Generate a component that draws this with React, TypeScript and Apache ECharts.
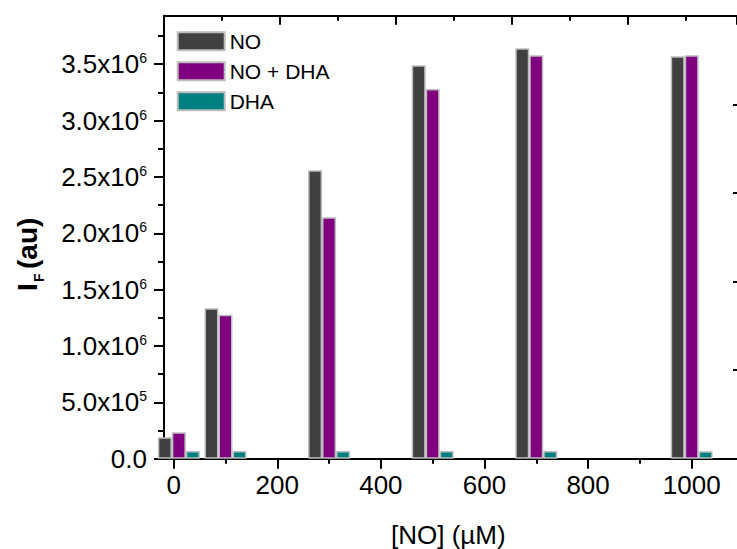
import React, { useEffect, useRef } from "react";
import * as echarts from "echarts";

const FONT = "'Liberation Sans', Arial, sans-serif";

const concentrations = [10, 100, 300, 500, 700, 1000];
const noValues = [0.19e6, 1.335e6, 2.559e6, 3.491e6, 3.641e6, 3.571e6];
const noDhaValues = [0.234e6, 1.278e6, 2.142e6, 3.28e6, 3.579e6, 3.579e6];
const dhaValues = [0.068e6, 0.068e6, 0.068e6, 0.068e6, 0.068e6, 0.066e6];
const seriesNames = ["NO", "NO + DHA", "DHA"];
const seriesColors = ["#404040", "#800080", "#008080"];
const xTicks = [0, 200, 400, 600, 800, 1000];
const xMinorTicks = [100, 300, 500, 700, 900];
const yTicks = [0, 5e5, 1e6, 1.5e6, 2e6, 2.5e6, 3e6, 3.5e6];
const yMinorTicks = [2.5e5, 7.5e5, 1.25e6, 1.75e6, 2.25e6, 2.75e6, 3.25e6, 3.75e6];

const X_MIN = -18.7;
const X_MAX = 1087.5;
const Y_MAX = 3.93e6;

function yLabel(v: number): string {
  if (v === 0) return "{m|0.0}";
  const e = Math.floor(Math.log10(v) + 1e-9);
  const m = v / Math.pow(10, e);
  return `{m|${m.toFixed(1)}x10}{e|${e}}`;
}

export default function App() {
  const ref = useRef<HTMLDivElement>(null);
  useEffect(() => {
    if (!ref.current) return;
    const chart = echarts.init(ref.current, null, { renderer: "svg" });
    const allValues = [noValues, noDhaValues, dhaValues];
    const axisLineStyle = { color: "#000", width: 2 };
    chart.setOption({
      animation: false,
      backgroundColor: "#fff",
      grid: { left: 164, right: 0, top: 15.7, bottom: 90.3, containLabel: false },
      legend: {
        left: 176.7,
        top: 30.7,
        orient: "vertical",
        padding: 0,
        itemWidth: 47,
        itemHeight: 18,
        itemGap: 9,
        icon: "rect",
        selectedMode: false,
        data: seriesNames,
        textStyle: { fontSize: 21, fontFamily: FONT, color: "#000", lineHeight: 18 },
      },
      xAxis: [
        {
          type: "value",
          position: "bottom",
          min: X_MIN,
          max: X_MAX,
          splitLine: { show: false },
          axisLine: { show: true, onZero: false, lineStyle: axisLineStyle },
          axisTick: { show: true, customValues: xTicks, length: 10, lineStyle: axisLineStyle },
          minorTick: { show: false },
          axisLabel: {
            customValues: xTicks,
            formatter: (v: number) => String(v),
            fontSize: 26,
            fontFamily: FONT,
            color: "#000",
            margin: 13,
          },
        },
        {
          type: "value",
          position: "top",
          min: 0,
          max: 4.94,
          interval: 1,
          splitLine: { show: false },
          axisLine: { show: true, onZero: false, lineStyle: axisLineStyle },
          axisTick: { show: true, inside: true, length: 9, lineStyle: axisLineStyle },
          minorTick: { show: true, splitNumber: 2, length: 5, lineStyle: axisLineStyle },
          axisLabel: { show: false },
        },
        {
          // minor ticks of the bottom axis
          type: "value",
          position: "bottom",
          min: X_MIN,
          max: X_MAX,
          splitLine: { show: false },
          axisLine: { show: false, onZero: false },
          axisTick: { show: true, customValues: xMinorTicks, length: 5, lineStyle: axisLineStyle },
          axisLabel: { show: false },
        },
      ],
      yAxis: [
        {
          type: "value",
          position: "left",
          min: 0,
          max: Y_MAX,
          interval: 5e5,
          splitLine: { show: false },
          axisLine: { show: true, onZero: false, lineStyle: axisLineStyle },
          axisTick: { show: true, customValues: yTicks, length: 10, lineStyle: axisLineStyle },
          minorTick: { show: false },
          axisLabel: {
            customValues: yTicks,
            margin: 17,
            formatter: (v: number) => yLabel(v),
            rich: {
              m: { fontSize: 26, fontFamily: FONT, color: "#000" },
              e: { fontSize: 14, fontFamily: FONT, color: "#000", verticalAlign: "top" },
            },
          },
        },
        {
          type: "value",
          position: "right",
          min: 0,
          max: 5,
          interval: 1,
          splitLine: { show: false },
          axisLine: { show: false, onZero: false },
          axisTick: { show: true, inside: true, length: 4, lineStyle: axisLineStyle },
          axisLabel: { show: false },
        },
        {
          // minor ticks of the left axis
          type: "value",
          position: "left",
          min: 0,
          max: Y_MAX,
          splitLine: { show: false },
          axisLine: { show: false, onZero: false },
          axisTick: { show: true, customValues: yMinorTicks, length: 6, lineStyle: axisLineStyle },
          axisLabel: { show: false },
        },
      ],
      series: seriesNames.map((name, i) => ({
        name,
        type: "bar",
        xAxisIndex: 0,
        yAxisIndex: 0,
        barWidth: 14,
        barGap: "0%",
        clip: true,
        itemStyle: { color: seriesColors[i], borderColor: "#bdbdbd", borderWidth: 1.5 },
        data: concentrations.map((c, j) => [c, allValues[i][j]]),
      })),
      graphic: [
        {
          type: "group",
          x: 27.5,
          y: 253,
          rotation: Math.PI / 2,
          children: [
            { type: "text", x: -38, y: 0, style: { text: "I", font: `bold 28px ${FONT}`, fill: "#000", align: "left", verticalAlign: "middle" } },
            { type: "text", x: -29, y: 11.5, style: { text: "F", font: `bold 14px ${FONT}`, fill: "#000", align: "left", verticalAlign: "middle" } },
            { type: "text", x: -16, y: 0, style: { text: "(au)", font: `bold 28px ${FONT}`, fill: "#000", align: "left", verticalAlign: "middle" } },
          ],
        },
        {
          type: "text",
          x: 448.3,
          y: 535,
          style: { text: "[NO] (µM)", font: `26px ${FONT}`, fill: "#000", align: "center", verticalAlign: "middle" },
        },
      ],
    });
    return () => chart.dispose();
  }, []);
  return <div ref={ref} style={{ position: "fixed", left: 0, top: 0, width: 737, height: 549 }} />;
}
